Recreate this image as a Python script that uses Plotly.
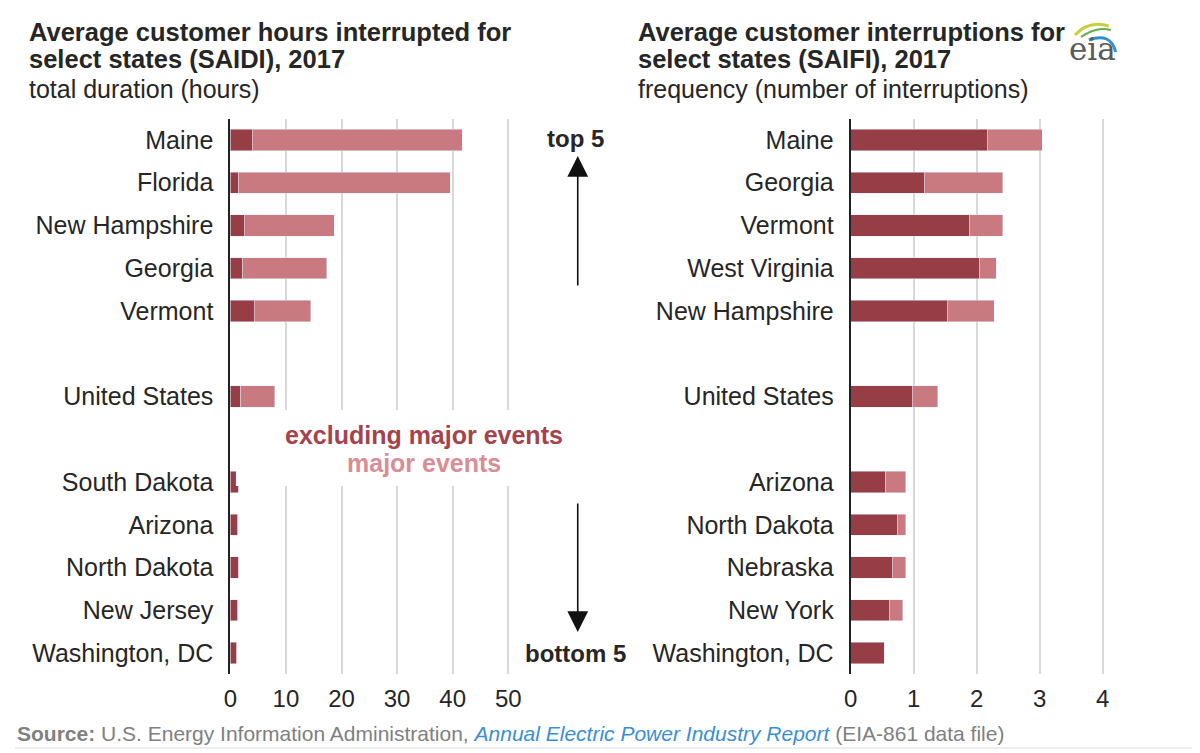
import plotly.graph_objects as go

# SAIDI: average customer hours interrupted, 2017
saidi_states = ["Maine", "Florida", "New Hampshire", "Georgia", "Vermont",
                "United States",
                "South Dakota", "Arizona", "North Dakota", "New Jersey", "Washington, DC"]
saidi_excl = [3.9, 1.5, 2.5, 2.2, 4.3, 1.85, 1.4, 1.3, 1.45, 1.35, 1.15]
saidi_major = [37.8, 38.1, 16.2, 15.1, 10.2, 6.15, 0.1, 0.1, 0.05, 0.05, 0.05]

# SAIFI: average customer interruptions, 2017
saifi_states = ["Maine", "Georgia", "Vermont", "West Virginia", "New Hampshire",
                "United States",
                "Arizona", "North Dakota", "Nebraska", "New York", "Washington, DC"]
saifi_excl = [2.17, 1.17, 1.89, 2.05, 1.53, 0.98, 0.56, 0.75, 0.66, 0.62, 0.53]
saifi_major = [0.87, 1.24, 0.52, 0.26, 0.75, 0.40, 0.31, 0.12, 0.21, 0.21, 0.0]

saidi_ticks = [0, 10, 20, 30, 40, 50]
saifi_ticks = [0, 1, 2, 3, 4]

DARK = "#973d45"
LIGHT = "#c97a81"
W, H = 1200, 753


def px(x):
    return x / W


def py(y):
    return 1 - y / H


def order(states):
    # top 5, blank, US, blank, bottom 5
    return states[:5] + [" "] + [states[5]] + ["  "] + states[6:]


fig = go.Figure()
fig.add_trace(go.Bar(y=saidi_states, x=saidi_excl, orientation="h", marker_color=DARK,
                     xaxis="x", yaxis="y", name="excluding major events"))
fig.add_trace(go.Bar(y=saidi_states, x=saidi_major, orientation="h", marker_color=LIGHT,
                     xaxis="x", yaxis="y", name="major events"))
fig.add_trace(go.Bar(y=saifi_states, x=saifi_excl, orientation="h", marker_color=DARK,
                     xaxis="x2", yaxis="y2", name="excluding major events"))
fig.add_trace(go.Bar(y=saifi_states, x=saifi_major, orientation="h", marker_color=LIGHT,
                     xaxis="x2", yaxis="y2", name="major events"))

ydom = [py(666.4), py(110.6)]
font = "Liberation Sans, Arial, sans-serif"

xcommon = dict(showgrid=True, gridcolor="#d9d9d9", gridwidth=1.5, zeroline=False,
               showline=False, ticks="", tickfont=dict(size=24, color="#262626"),
               ticklabelstandoff=8, fixedrange=True)
ycommon = dict(type="category", categoryorder="array", range=[12.5, -0.5],
               showgrid=False, zeroline=False, showline=True, linecolor="#222",
               linewidth=2, ticks="", tickfont=dict(size=25, color="#262626"),
               ticklabelstandoff=10, fixedrange=True)

fig.update_layout(
    width=W, height=H,
    margin=dict(l=0, r=0, t=0, b=0),
    paper_bgcolor="white", plot_bgcolor="white",
    barmode="stack", bargap=0.5, showlegend=False,
    font=dict(family=font, color="#262626"),
    xaxis=dict(domain=[px(217), px(508.2)], range=[0, 52], tickvals=saidi_ticks,
               anchor="y", **xcommon),
    xaxis2=dict(domain=[px(842), px(1108.7)], range=[0, 4.2], tickvals=saifi_ticks,
                anchor="y2", **xcommon),
    yaxis=dict(domain=ydom, anchor="x", categoryarray=order(saidi_states), **ycommon),
    yaxis2=dict(domain=ydom, anchor="x2", categoryarray=order(saifi_states), **ycommon),
)

# white box behind the legend text
fig.add_shape(type="rect", xref="x", yref="paper", x0=1, x1=52,
              y0=py(478), y1=py(402), fillcolor="white", line_width=0, layer="above")
# rule under the source line
fig.add_shape(type="line", xref="paper", yref="paper", x0=0, x1=1,
              y0=py(740), y1=py(740), line=dict(color="#dddddd", width=1))


def note(text, x, y, size, color="#262626", xanchor="left", **kw):
    fig.add_annotation(text=text, x=px(x), y=py(y), xref="paper", yref="paper",
                       xanchor=xanchor, yanchor="middle", showarrow=False,
                       font=dict(size=size, color=color, family=font), **kw)


note("<b>Average customer hours interrupted for</b>", 12, 24, 25.5)
note("<b>select states (SAIDI), 2017</b>", 12, 51, 25.5)
note("total duration (hours)", 12, 81, 25)
note("<b>Average customer interruptions for</b>", 626, 24, 25.5)
note("<b>select states (SAIFI), 2017</b>", 626, 51, 25.5)
note("frequency (number of interruptions)", 626, 81, 25)

note("<b>excluding major events</b>", 412, 427, 25, color="#a5434c", xanchor="center")
note("<b>major events</b>", 412, 455, 25, color="#d98d94", xanchor="center")

note("<b>top 5</b>", 565, 130, 24, xanchor="center")
note("<b>bottom 5</b>", 565, 645, 24, xanchor="center")

# arrows
for head, tail in [((567, 148), 279), ((567, 624), 494)]:
    fig.add_annotation(x=px(head[0]), y=py(head[1]), xref="paper", yref="paper",
                       ax=0, ay=tail - head[1], text="", showarrow=True,
                       arrowhead=2, arrowsize=2.6, arrowwidth=1.6, arrowcolor="#111")

note("<b>Source:</b> U.S. Energy Information Administration, "
     "<i><span style='color:#3a8fd2'>Annual Electric Power Industry Report</span></i>"
     " (EIA-861 data file)", 0, 725, 21, color="#808080")

# eia logo
fig.add_annotation(text="eia", x=px(1086), y=py(41), xref="paper", yref="paper",
                   showarrow=False, xanchor="center", yanchor="middle",
                   font=dict(size=31, color="#5a5a5a", family="DejaVu Serif, serif"))


def path(points):
    (x0, y0), (cx, cy), (x1, y1) = points
    return f"M {px(x0)},{py(y0)} Q {px(cx)},{py(cy)} {px(x1)},{py(y1)}"


fig.add_shape(type="path", xref="paper", yref="paper",
              path=path([(1068, 27), (1082, 12), (1102, 18)]),
              line=dict(color="#c8cf3a", width=3))
fig.add_shape(type="path", xref="paper", yref="paper",
              path=path([(1074, 29), (1090, 18), (1104, 22)]),
              line=dict(color="#5fae4a", width=2))
fig.add_shape(type="path", xref="paper", yref="paper",
              path=path([(1082, 32), (1104, 24), (1109, 44)]),
              line=dict(color="#2f8fd0", width=3))

fig.write_html("out.html")
